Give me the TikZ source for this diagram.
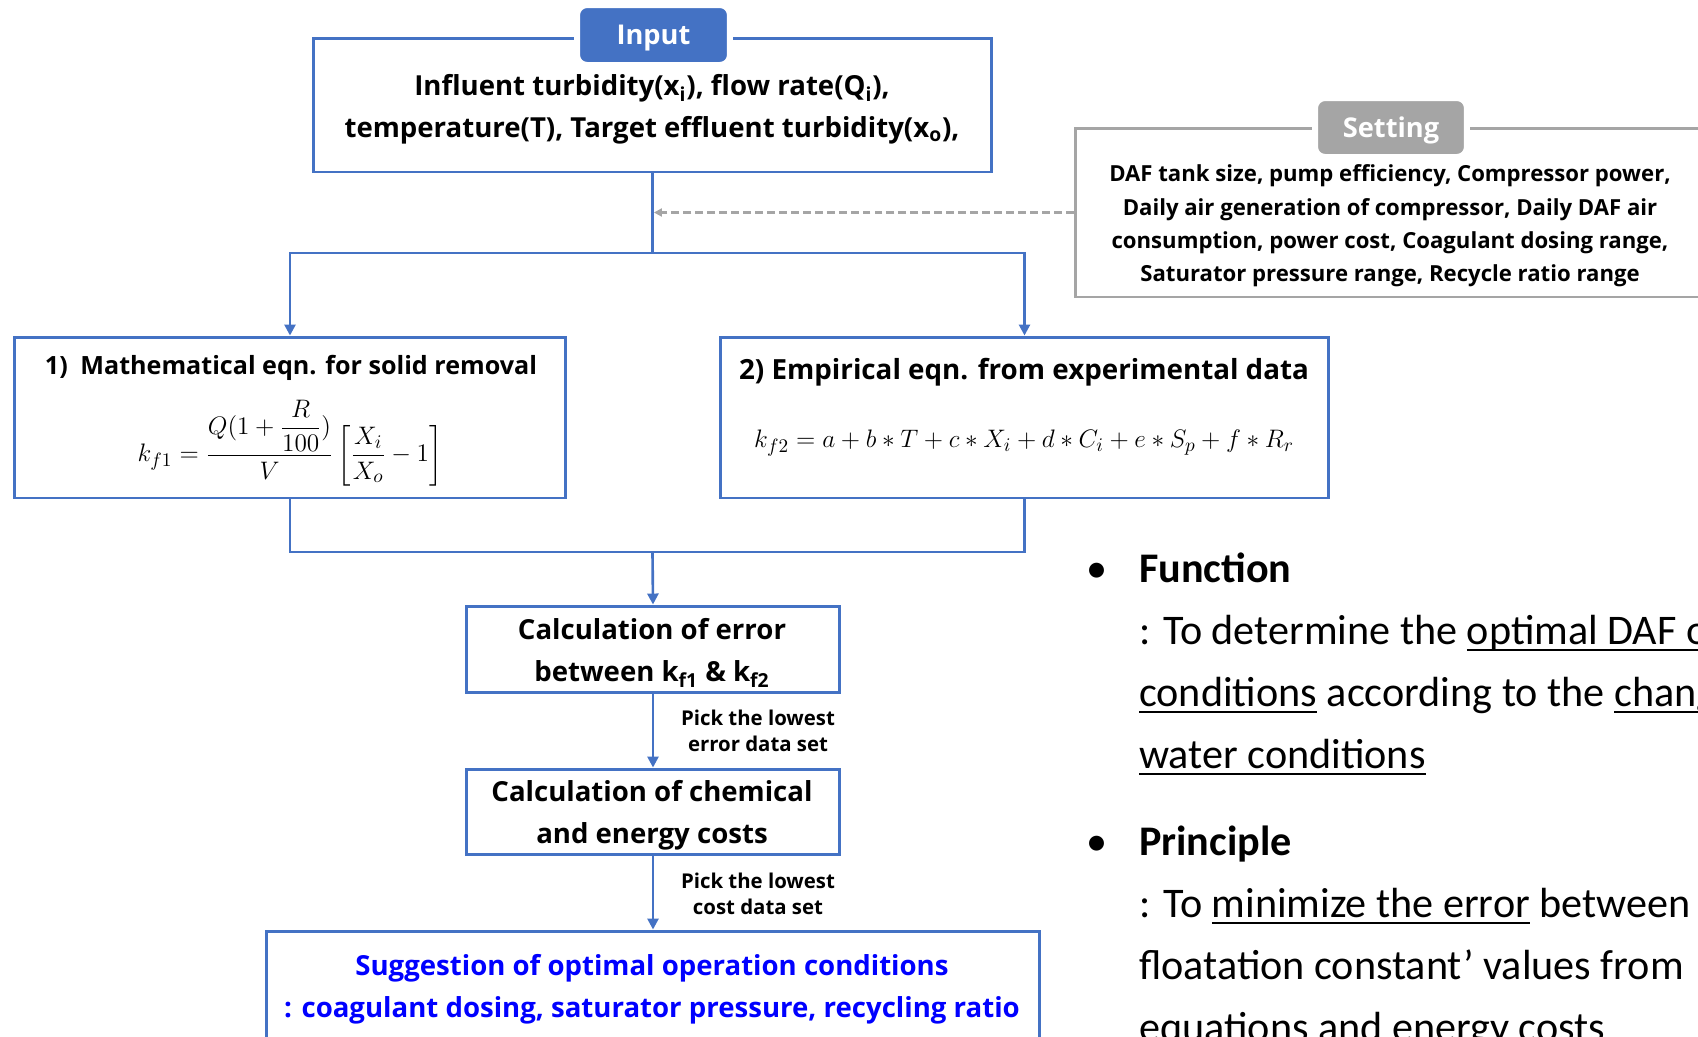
\documentclass[tikz,border=0pt]{standalone}
\usepackage{fontspec}
\usepackage{amsmath}
\usepackage{tikz}
\usetikzlibrary{arrows.meta,positioning}
\setmainfont{Open Sans}
\newfontfamily\slidefont{Carlito}
\definecolor{inblue}{HTML}{4472C4}
\definecolor{setgray}{HTML}{A5A5A5}
\definecolor{sugblue}{HTML}{0000FF}
\newsavebox{\ulbox}
\newcommand{\ulw}[1]{\sbox{\ulbox}{#1}%
  \rlap{\raisebox{-4.2pt}{\rule{\wd\ulbox}{1.1pt}}}\usebox{\ulbox}}

\begin{document}
\begin{tikzpicture}[x=0.02cm, y=-0.02cm,
  flowbox/.style={draw=inblue, line width=1.7pt, inner sep=0pt},
  tabbox/.style={draw=white, line width=0.12cm, rounded corners=0.2cm,
    text=white, inner sep=0pt, font=\fontsize{15.5}{18}\selectfont\bfseries},
  boxtext/.style={align=center, font=\fontsize{15.7}{23.9}\selectfont\bfseries},
  pick/.style={align=center, font=\fontsize{11.6}{14.8}\selectfont\bfseries},
  conn/.style={draw=inblue, line width=1.5pt},
  arr/.style={conn, -{Triangle[length=2.2mm, width=2.2mm]}},
  slide/.style={anchor=base west, font=\slidefont\fontsize{24}{35}\selectfont}]
\useasboundingbox (0,0) rectangle (1698,1036);
\clip (0,0) rectangle (1698,1036);
% ================= input =================
\node[flowbox, minimum width=13.58cm, minimum height=2.68cm] (inbox)
  at (652.5,105) {};
\node[tabbox, fill=inblue, minimum width=3.06cm, minimum height=1.2cm] (intab)
  at (653.5,35) {};
\node (inlabel) at (653.5,38.5) [font=\fontsize{15.5}{18}\selectfont\bfseries,
  text=white] {Input};
\node[boxtext] (intext) at (652,109)
  {Influent turbidity(x\textsubscript{i}), flow rate(Q\textsubscript{i}),\\
   temperature(T), Target effluent turbidity(x\textsubscript{o}),};
% ================= setting =================
\node[draw=setgray, line width=1.7pt, minimum width=12.9cm,
  minimum height=3.38cm] (setbox) at (1397.5,212.5) {};
\node[tabbox, fill=setgray, minimum width=3.04cm, minimum height=1.18cm] (settab)
  at (1391,127.5) {};
\node (setlabel) at (1391,130) [font=\fontsize{15.5}{18}\selectfont\bfseries,
  text=white] {Setting};
\node[align=center, font=\fontsize{12.6}{19}\selectfont\bfseries] (settext)
  at (1390,226)
  {DAF tank size, pump efficiency, Compressor power,\\
   Daily air generation of compressor, Daily DAF air\\
   consumption, power cost, Coagulant dosing range,\\
   Saturator pressure range, Recycle ratio range};
% ================= the two equations =================
\node[flowbox, minimum width=11.04cm, minimum height=3.22cm] (box1)
  at (290,417.5) {};
\node[font=\fontsize{14.3}{17}\selectfont\bfseries] (title1) at (291,367.5)
  {1)\enspace Mathematical eqn. for solid removal};
\node[font=\fontsize{15.2}{18}\selectfont] (eq1) at (290,443)
  {$k_{f1}=\dfrac{Q(1+\dfrac{R}{100})}{V}\left[\dfrac{X_i}{X_o}-1\right]$};
\node[flowbox, minimum width=12.18cm, minimum height=3.22cm] (box2)
  at (1024.5,417.5) {};
\node[font=\fontsize{15.8}{18}\selectfont\bfseries] (title2) at (1024,372.5)
  {2) Empirical eqn. from experimental data};
\node[font=\fontsize{15.5}{18}\selectfont] (eq2) at (1024,443)
  {$k_{f2}=a+b*T+c*X_i+d*C_i+e*S_p+f*R_r$};
% ================= calculation steps =================
\node[flowbox, minimum width=7.48cm, minimum height=1.72cm] (box3)
  at (653,649) {};
\node[boxtext] (calcerr) at (652,652.5)
  {Calculation of error\\ between k\textsubscript{f1} \& k\textsubscript{f2}};
\node[flowbox, minimum width=7.48cm, minimum height=1.70cm] (box4)
  at (653,811.5) {};
\node[boxtext] (calccost) at (652,815.5)
  {Calculation of chemical\\ and energy costs};
\node[flowbox, minimum width=15.48cm, minimum height=2.58cm] (box5)
  at (653,995.5) {};
\node[boxtext, text=sugblue] (sugtext) at (652,989.5)
  {Suggestion of optimal operation conditions\\
   : coagulant dosing, saturator pressure, recycling ratio};
\node[pick] (pick1) at (758,731) {Pick the lowest\\ error data set};
\node[pick] (pick2) at (758,894) {Pick the lowest\\ cost data set};
% ================= connectors =================
\coordinate (split) at (652.5,253);
\coordinate (merge) at (652.5,552);
\draw[conn] (inbox.south) -- (split);
\draw[arr] (split) -| (box1.north);
\draw[arr] (split) -| (box2.north);
\draw[setgray, line width=1.3pt, dash pattern=on 4.5pt off 2.3pt,
  -{Triangle[length=1.6mm, width=1.6mm]}, shorten >=0.8pt]
  (setbox.west) -- (setbox.west -| inbox.south);
\draw[conn] (box1.south) |- (merge);
\draw[conn] (box2.south) |- (merge);
\draw[arr] (merge) -- (box3.north);
\draw[arr] (box3.south) -- (box4.north);
\draw[arr] (box4.south) -- (box5.north);
% ================= function / principle =================
\node[anchor=base, font=\slidefont\fontsize{24}{35}\selectfont] (bul1)
  at (1097,582) {\textbullet};
\node[slide] (func) at (1133,582) {\bfseries Function};
\node[slide] (func1) at (1133,644)
  {: To determine the \ulw{optimal DAF operation}};
\node[slide] (func2) at (1133,706)
  {\ulw{conditions} according to the \ulw{changing}};
\node[slide] (func3) at (1133,768) {\ulw{water conditions}};
\node[anchor=base, font=\slidefont\fontsize{24}{35}\selectfont] (bul2)
  at (1097,855) {\textbullet};
\node[slide] (prin) at (1133,855) {\bfseries Principle};
\node[slide] (prin1) at (1133,917)
  {: To \ulw{minimize the error} between};
\node[slide] (prin2) at (1133,979) {floatation constant’ values from};
\node[slide] (prin3) at (1133,1041) {equations and energy costs};
\end{tikzpicture}
\end{document}
